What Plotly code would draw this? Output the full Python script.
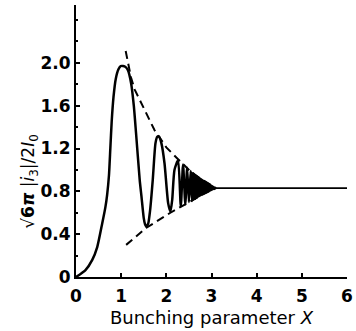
import plotly.graph_objects as go

# Main curve
curve_x = [0, 0.21, 0.36, 0.47, 0.58, 0.65, 0.69, 0.73, 0.76, 0.79, 0.83, 0.88, 0.94, 0.99, 1.04,
           1.10, 1.15, 1.22, 1.28, 1.33, 1.41, 1.45, 1.50, 1.53, 1.56, 1.60, 1.64, 1.70, 1.76,
           1.80, 1.84, 1.89, 1.96, 2.04, 2.09, 2.13, 2.18, 2.26, 2.32, 2.37, 2.42, 2.46, 2.50,
           2.54, 2.57, 2.60, 2.63]
curve_y = [0, 0.065, 0.16, 0.28, 0.50, 0.65, 0.77, 0.95, 1.20, 1.45, 1.68, 1.85, 1.94, 1.97, 1.97,
           1.96, 1.93, 1.81, 1.60, 1.34, 0.91, 0.75, 0.55, 0.49, 0.47, 0.50, 0.62, 0.91, 1.25,
           1.31, 1.31, 1.25, 1.06, 0.69, 0.61, 0.72, 1.00, 1.09, 0.66, 1.05, 0.68, 1.02, 0.70,
           0.99, 0.71, 0.97, 0.72]

# Flat part beyond convergence
flat_x = [3.1, 6.0]
flat_y = [0.83, 0.83]

# Envelopes (dashed)
upper_x = [1.10, 1.22, 1.30, 1.45, 1.59, 1.74, 1.84, 2.00, 2.26, 2.50, 2.55, 2.75, 2.90, 3.10]
upper_y = [2.11, 1.86, 1.75, 1.62, 1.50, 1.37, 1.31, 1.21, 1.10, 1.00, 0.98, 0.92, 0.88, 0.83]
lower_x = [1.11, 1.56, 2.09, 2.50, 2.55, 2.80, 3.10]
lower_y = [0.30, 0.46, 0.60, 0.70, 0.71, 0.77, 0.83]

y_ticks = [0, 0.4, 0.8, 1.2, 1.6, 2.0]
y_tick_text = ["0", "0.4", "0.8", "1.2", "1.6", "2.0"]
x_ticks = [0, 1, 2, 3, 4, 5, 6]
x_tick_text = ["0", "1", "2", "3", "4", "5", "6"]

fill_start = 2.55
poly_x = [x for x in upper_x if x >= fill_start] + [x for x in lower_x if x >= fill_start][::-1]
poly_y = [y for x, y in zip(upper_x, upper_y) if x >= fill_start] + \
         [y for x, y in zip(lower_x, lower_y) if x >= fill_start][::-1]

fig = go.Figure()
fig.add_trace(go.Scatter(x=upper_x, y=upper_y, mode="lines",
                         line=dict(color="black", width=2, dash="8px,5px")))
fig.add_trace(go.Scatter(x=lower_x, y=lower_y, mode="lines",
                         line=dict(color="black", width=2, dash="8px,5px")))
fig.add_trace(go.Scatter(x=poly_x, y=poly_y, mode="lines", fill="toself",
                         fillcolor="black", line=dict(color="black", width=1.5)))
fig.add_trace(go.Scatter(x=curve_x, y=curve_y, mode="lines",
                         line=dict(color="black", width=2.5, shape="spline", smoothing=0.6)))
fig.add_trace(go.Scatter(x=flat_x, y=flat_y, mode="lines",
                         line=dict(color="black", width=1.6)))

font_family = "DejaVu Sans"
fig.update_layout(
    width=356, height=331,
    margin=dict(l=76, r=9, t=5, b=54),
    plot_bgcolor="white", paper_bgcolor="white",
    showlegend=False,
    font=dict(family=font_family, color="black"),
    annotations=[dict(
        text="√<b>6<i>π</i></b> |<i>i</i><sub>3</sub>|/2<i>I</i><sub>0</sub>",
        xref="paper", yref="paper", x=-0.17, y=0.35, textangle=-90,
        showarrow=False, xanchor="center", yanchor="middle",
        font=dict(size=17, family=font_family, color="black"),
    )],
)
fig.update_xaxes(
    range=[0, 6], tickvals=x_ticks, ticktext=x_tick_text, automargin=False,
    ticklabeloverflow="allow", ticklabelstandoff=3,
    showline=True, linecolor="black", linewidth=2, showgrid=False, zeroline=False,
    ticks="inside", ticklen=4, tickwidth=1.5, tickcolor="black",
    tickfont=dict(size=17, family=font_family, weight="bold"),
    title=dict(text="Bunching parameter <i>X</i>", font=dict(size=18, family=font_family), standoff=6),
)
fig.update_yaxes(
    range=[0, 2.54], tickvals=y_ticks, ticktext=y_tick_text, automargin=False,
    ticklabeloverflow="allow",
    showline=True, linecolor="black", linewidth=2, showgrid=False, zeroline=False,
    ticks="inside", ticklen=4, tickwidth=1.5, tickcolor="black",
    minor=dict(ticks="inside", ticklen=2, tickcolor="black", dtick=0.2, showgrid=False),
    tickfont=dict(size=17, family=font_family, weight="bold"),
)
fig.write_html("out.html", config={"displayModeBar": False},
               post_script="document.body.style.margin='0';")
